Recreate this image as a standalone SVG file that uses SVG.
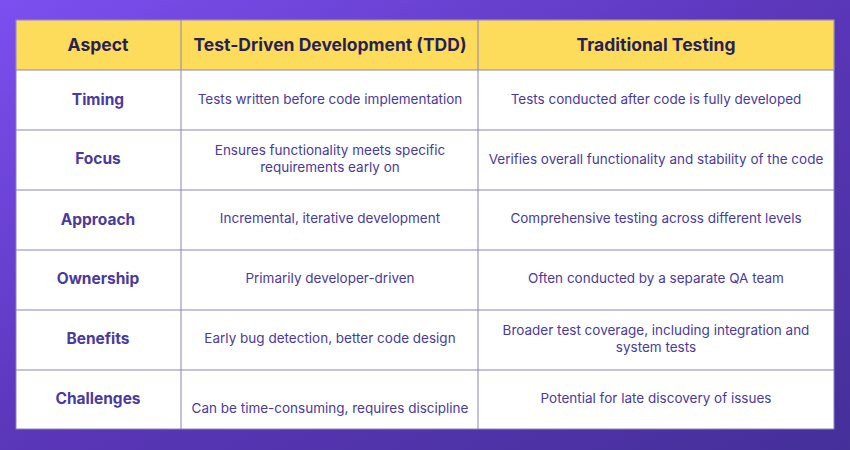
<svg xmlns="http://www.w3.org/2000/svg" width="850" height="450" viewBox="0 0 850 450">
<defs>
<linearGradient id="bg" x1="0" y1="0" x2="1" y2="1">
<stop offset="0" stop-color="#7c4ff0"/>
<stop offset="0.5" stop-color="#5a36b8"/>
<stop offset="1" stop-color="#45309a"/>
</linearGradient>
<style>
.h{font-family:Inter,"Open Sans",sans-serif;font-weight:700;font-size:17.5px;fill:#2a1f55;text-anchor:middle}
.k{font-family:Inter,"Open Sans",sans-serif;font-weight:700;font-size:15.5px;fill:#4a3a9e;text-anchor:middle}
.t{font-family:Inter,"Open Sans",sans-serif;font-size:13.5px;fill:#4a3a9e;text-anchor:middle}
.ln{stroke:#8d84b8;stroke-width:1}
</style>
</defs>
<rect width="850" height="450" fill="url(#bg)"/>
<g id="table">
<rect x="16" y="20" width="818" height="409" fill="#ffffff" stroke="#8d84b8"/>
<rect x="16" y="20" width="818" height="50" fill="#fddc5c" stroke="#8d84b8"/>
</g>
<g id="grid">
<line class="ln" x1="181" y1="20" x2="181" y2="429"/>
<line class="ln" x1="478" y1="20" x2="478" y2="429"/>
<line class="ln" x1="16" y1="130" x2="834" y2="130"/>
<line class="ln" x1="16" y1="190" x2="834" y2="190"/>
<line class="ln" x1="16" y1="250" x2="834" y2="250"/>
<line class="ln" x1="16" y1="310" x2="834" y2="310"/>
<line class="ln" x1="16" y1="370" x2="834" y2="370"/>
</g>
<g id="header">
<text class="h" x="98" y="51">Aspect</text>
<text class="h" x="330" y="51">Test-Driven Development (TDD)</text>
<text class="h" x="656" y="51">Traditional Testing</text>
</g>
<g id="row-timing">
<text class="k" x="98" y="105">Timing</text>
<text class="t" x="330" y="104">Tests written before code implementation</text>
<text class="t" x="656" y="104">Tests conducted after code is fully developed</text>
</g>
<g id="row-focus">
<text class="k" x="98" y="164">Focus</text>
<text class="t" x="330" y="155">Ensures functionality meets specific</text>
<text class="t" x="330" y="172">requirements early on</text>
<text class="t" x="656" y="164">Verifies overall functionality and stability of the code</text>
</g>
<g id="row-approach">
<text class="k" x="98" y="225">Approach</text>
<text class="t" x="330" y="223">Incremental, iterative development</text>
<text class="t" x="656" y="223">Comprehensive testing across different levels</text>
</g>
<g id="row-ownership">
<text class="k" x="98" y="284">Ownership</text>
<text class="t" x="330" y="283">Primarily developer-driven</text>
<text class="t" x="656" y="283">Often conducted by a separate QA team</text>
</g>
<g id="row-benefits">
<text class="k" x="98" y="344">Benefits</text>
<text class="t" x="330" y="343">Early bug detection, better code design</text>
<text class="t" x="656" y="335">Broader test coverage, including integration and</text>
<text class="t" x="656" y="352">system tests</text>
</g>
<g id="row-challenges">
<text class="k" x="98" y="404">Challenges</text>
<text class="t" x="330" y="413">Can be time-consuming, requires discipline</text>
<text class="t" x="656" y="403">Potential for late discovery of issues</text>
</g>
</svg>
